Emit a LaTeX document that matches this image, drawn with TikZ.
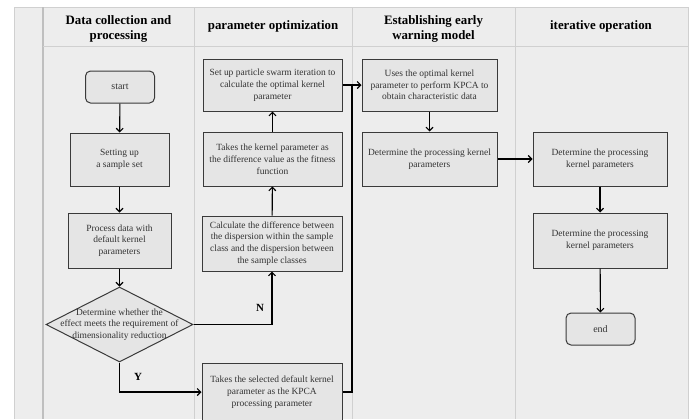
\documentclass[tikz,border=0pt]{standalone}
\usepackage{fontspec}
\setmainfont{Liberation Serif}
\usetikzlibrary{arrows.meta,shapes.geometric}
\definecolor{bgc}{HTML}{EDEDED}
\definecolor{boxc}{HTML}{E5E5E5}
\definecolor{lanec}{HTML}{D0D0D0}
\definecolor{txtc}{HTML}{333333}
\definecolor{edgec}{HTML}{3A3A3A}
\begin{document}
\begin{tikzpicture}[x=1bp,y=-1bp,
  procbox/.style={draw=edgec, fill=boxc, line width=1bp, text=txtc, align=center, inner sep=0pt,
    font=\fontsize{9.5}{11.8}\selectfont},
  termbox/.style={procbox, rounded corners=5bp, font=\fontsize{10}{11}\selectfont},
  decbox/.style={draw=edgec, fill=boxc, line width=1bp, diamond, inner sep=0pt},
  dectext/.style={text=txtc, align=center, inner sep=0pt, font=\fontsize{9.5}{11.8}\selectfont},
  headtxt/.style={align=center, inner sep=0pt, font=\fontsize{12.9}{15.5}\selectfont\bfseries},
  flow/.style={draw=black, line width=1.1bp, -{Straight Barb[length=3.5bp,width=7bp,line width=1.1bp]}},
  plainline/.style={draw=black, line width=1.1bp},
  lane/.style={draw=lanec, line width=0.8bp},
  yn/.style={inner sep=0pt, font=\fontsize{11}{11}\selectfont\bfseries}
]
\useasboundingbox (0,0) rectangle (691,419);
% background
\fill[white] (0,0) rectangle (691,419);
\fill[bgc] (14,7) rectangle (688,419);
\draw[lanec, line width=0.8bp] (14,419) -- (14,7) -- (688,7) -- (688,419);
\draw[draw=black!25, line width=1.2bp] (43,7) -- (43,419);
\draw[lane] (194,7) -- (194,419);
\draw[lane] (352,7) -- (352,419);
\draw[lane] (515,7) -- (515,419);
\draw[lanec, line width=1bp] (43,46) -- (688,46);

% headers
\node[headtxt] (h1) at (118.5,29) {Data collection and\\processing};
\node[headtxt] (h2) at (273,26) {parameter optimization};
\node[headtxt] (h3) at (433.5,29) {Establishing early\\warning model};
\node[headtxt] (h4) at (601,26) {iterative operation};

% column 1
\node[termbox, minimum width=69bp, minimum height=32bp] (start) at (120,87) {start};
\node[procbox, minimum width=99bp, minimum height=53bp] (setup) at (119.5,159.5) {Setting up\\a sample set};
\node[procbox, minimum width=103bp, minimum height=55bp] (procd) at (119.5,240.5) {Process data with\\default kernel\\parameters};
\node[decbox, minimum width=147bp, minimum height=75bp] (dec) at (119.5,324.5) {};
\node[dectext] (dect) at (dec.center) {Determine whether the\\effect meets the requirement of\\dimensionality reduction};

% column 2
\node[procbox, minimum width=139bp, minimum height=52bp] (pso) at (272.5,85) {Set up particle swarm iteration to\\calculate the optimal kernel\\parameter};
\node[procbox, minimum width=139bp, minimum height=54bp] (fit) at (272.5,159) {Takes the kernel parameter as\\the difference value as the fitness\\function};
\node[procbox, minimum width=140bp, minimum height=55bp] (calc) at (272,243.5) {Calculate the difference between\\the dispersion within the sample\\class and the dispersion between\\the sample classes};
\node[procbox, minimum width=140bp, minimum height=58bp] (sel) at (272,392) {Takes the selected default kernel\\parameter as the KPCA\\processing parameter};

% column 3
\node[procbox, minimum width=135bp, minimum height=52bp] (uses) at (429.5,85) {Uses the optimal kernel\\parameter to perform KPCA to\\obtain characteristic data};
\node[procbox, minimum width=135bp, minimum height=54bp] (det1) at (429.5,159) {Determine the processing kernel\\parameters};

% column 4
\node[procbox, minimum width=134bp, minimum height=54bp] (det2) at (600,159) {Determine the processing\\kernel parameters};
\node[procbox, minimum width=134bp, minimum height=55bp] (det3) at (600,240.5) {Determine the processing\\kernel parameters};
\node[termbox, minimum width=69bp, minimum height=32bp] (endn) at (600.5,329) {end};

\coordinate (jx) at (352,85);

% connectors
\draw[flow] (start) -- (setup);
\draw[flow] (setup) -- (procd);
\draw[flow] (procd) -- (dec.north);
\draw[flow] (dec.east) -| (calc.south);
\draw[flow] (dec.south) |- (sel.west);
\draw[flow] (calc) -- (fit);
\draw[flow] (fit) -- (pso);
\draw[flow] (pso.east) -- (uses.west);
\draw[plainline] (sel.east) -| (jx);
\draw[flow] (uses) -- (det1);
\draw[flow] (det1) -- (det2);
\draw[flow] (det2) -- (det3);
\draw[flow] (det3) -- (endn);

\node[yn] (nlab) at (260,308) {N};
\node[yn] (ylab) at (138,377) {Y};
\end{tikzpicture}
\end{document}
